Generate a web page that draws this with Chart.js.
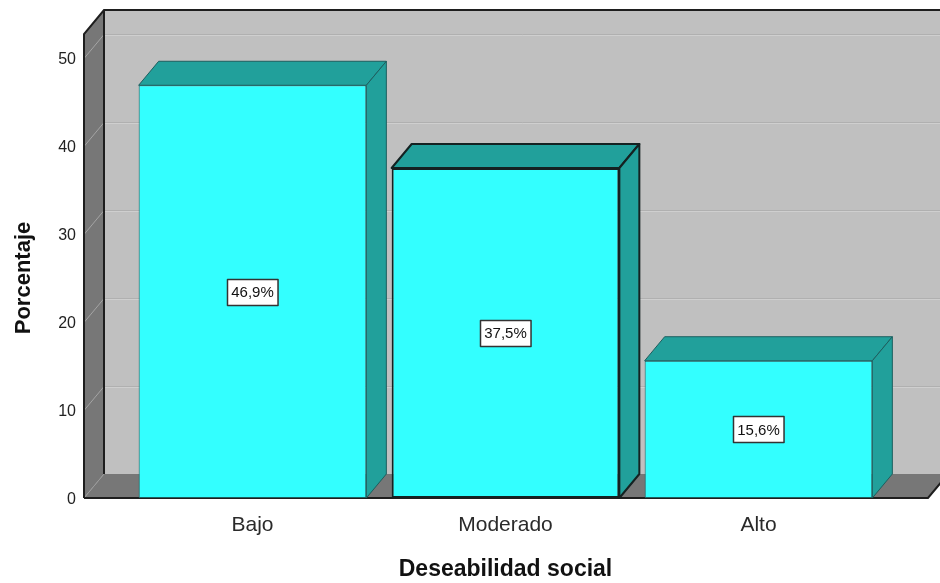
<!DOCTYPE html>
<html>
<head>
<meta charset="utf-8">
<script src="https://cdn.jsdelivr.net/npm/chart.js@4"></script>
<style>
    body { margin: 0; background: #ffffff; }
    canvas { display: block; }
</style>
</head>
<body>
<canvas id="myChart" width="940" height="583"></canvas>
<script>
const categories = ['Bajo', 'Moderado', 'Alto'];
const percentages = [46.9, 37.5, 15.6];
const yTicks = [0, 10, 20, 30, 40, 50];

const FONT = '"Liberation Sans", Arial, sans-serif';
const DEPTH_X = 20;
const DEPTH_Y = -24;
const SIDE = 42;

const wallColor = '#c0c0c0';
const sideColor = '#777777';
const faceColor = '#21a09b';

// back wall, left wall, floor and grid lines
const walls = {
    id: 'walls',
    beforeDraw(chart) {
        const ctx = chart.ctx;
        const ca = chart.chartArea;
        const y = chart.scales.y;
        const left = ca.left - SIDE;
        const right = ca.right + SIDE + 1;
        const bottom = y.getPixelForValue(0);
        const top = ca.top + DEPTH_Y;
        const bx = left + DEPTH_X;
        const by = bottom + DEPTH_Y;
        const farRight = right + DEPTH_X + 20;

        ctx.save();
        // back wall
        ctx.fillStyle = wallColor;
        ctx.fillRect(bx, top + DEPTH_Y, farRight - bx, by - top - DEPTH_Y);

        // left wall
        ctx.fillStyle = sideColor;
        ctx.beginPath();
        ctx.moveTo(left, top);
        ctx.lineTo(bx, top + DEPTH_Y);
        ctx.lineTo(bx, by);
        ctx.lineTo(left, bottom);
        ctx.closePath();
        ctx.fill();

        // floor
        ctx.beginPath();
        ctx.moveTo(left, bottom);
        ctx.lineTo(bx, by);
        ctx.lineTo(right + DEPTH_X, by);
        ctx.lineTo(right, bottom);
        ctx.closePath();
        ctx.fill();

        // grid lines
        ctx.lineWidth = 1;
        for (let i = 1; i < yTicks.length; i++) {
            const py = Math.round(y.getPixelForValue(yTicks[i])) + 0.5;
            ctx.strokeStyle = '#a4a4a4';
            ctx.beginPath();
            ctx.moveTo(left, py);
            ctx.lineTo(bx, py + DEPTH_Y);
            ctx.stroke();
            ctx.strokeStyle = '#b0b0b0';
            ctx.beginPath();
            ctx.moveTo(bx, py + DEPTH_Y);
            ctx.lineTo(farRight, py + DEPTH_Y);
            ctx.stroke();
            ctx.strokeStyle = '#cfcfcf';
            ctx.beginPath();
            ctx.moveTo(bx, py + DEPTH_Y + 1);
            ctx.lineTo(farRight, py + DEPTH_Y + 1);
            ctx.stroke();
        }
        ctx.strokeStyle = '#9a9a9a';
        ctx.beginPath();
        ctx.moveTo(left, bottom);
        ctx.lineTo(bx, by);
        ctx.stroke();

        // edges
        ctx.strokeStyle = '#1e1e1e';
        ctx.lineWidth = 2;
        ctx.beginPath();
        ctx.moveTo(left, bottom);
        ctx.lineTo(left, top);
        ctx.lineTo(bx, top + DEPTH_Y);
        ctx.lineTo(farRight, top + DEPTH_Y);
        ctx.stroke();

        ctx.beginPath();
        ctx.moveTo(bx, top + DEPTH_Y);
        ctx.lineTo(bx, by);
        ctx.stroke();

        ctx.beginPath();
        ctx.moveTo(left, bottom);
        ctx.lineTo(right, bottom);
        ctx.lineTo(right + DEPTH_X, by);
        ctx.stroke();
        ctx.restore();
    }
};

// top and side faces of the bars, plus the value boxes
const barFaces = {
    id: 'barFaces',
    afterDatasetsDraw(chart) {
        const ctx = chart.ctx;
        const meta = chart.getDatasetMeta(0);
        const ds = chart.data.datasets[0];

        ctx.save();
        meta.data.forEach((bar, i) => {
            const l = bar.x - bar.width / 2;
            const r = bar.x + bar.width / 2;
            ctx.fillStyle = faceColor;
            ctx.strokeStyle = ds.borderColor[i];
            ctx.lineWidth = ds.borderWidth[i];
            ctx.lineJoin = 'round';

            ctx.beginPath();
            ctx.moveTo(l, bar.y);
            ctx.lineTo(l + DEPTH_X, bar.y + DEPTH_Y);
            ctx.lineTo(r + DEPTH_X, bar.y + DEPTH_Y);
            ctx.lineTo(r, bar.y);
            ctx.closePath();
            ctx.fill();
            ctx.stroke();

            ctx.beginPath();
            ctx.moveTo(r, bar.y);
            ctx.lineTo(r + DEPTH_X, bar.y + DEPTH_Y);
            ctx.lineTo(r + DEPTH_X, bar.base + DEPTH_Y);
            ctx.lineTo(r, bar.base);
            ctx.closePath();
            ctx.fill();
            ctx.stroke();
        });

        ctx.font = '15px ' + FONT;
        ctx.textAlign = 'center';
        ctx.textBaseline = 'middle';
        meta.data.forEach((bar, i) => {
            const text = percentages[i].toFixed(1).replace('.', ',') + '%';
            const w = ctx.measureText(text).width + 8;
            const h = 26;
            const cy = (bar.y + bar.base) / 2;
            const bx = Math.round(bar.x - w / 2) + 0.5;
            const by = Math.round(cy - h / 2) + 0.5;
            ctx.fillStyle = '#ffffff';
            ctx.fillRect(bx, by, w, h);
            ctx.strokeStyle = '#333333';
            ctx.lineWidth = 1.5;
            ctx.strokeRect(bx, by, w, h);
            ctx.fillStyle = '#111111';
            ctx.fillText(text, bar.x, cy + 1);
        });
        ctx.restore();
    }
};

new Chart('myChart', {
    type: 'bar',
    data: {
        labels: categories,
        datasets: [{
            data: percentages,
            backgroundColor: '#33ffff',
            borderColor: ['#1d5f5f', '#142222', '#1d5f5f'],
            borderWidth: [1, 2, 1],
            borderSkipped: false,
            categoryPercentage: 1,
            barPercentage: 0.9,
        }]
    },
    options: {
        responsive: false,
        animation: false,
        devicePixelRatio: 1,
        layout: {
            padding: { top: 58, right: 55, bottom: 0, left: 0 },
        },
        scales: {
            x: {
                grid: { display: false },
                border: { display: false },
                ticks: {
                    padding: 7,
                    color: '#2a2a2a',
                    font: { family: FONT, size: 21 },
                },
                title: {
                    display: true,
                    text: 'Deseabilidad social',
                    color: '#111111',
                    font: { family: FONT, size: 23, weight: 'bold' },
                    padding: { top: 0, bottom: 0 },
                },
                afterFit(scale) {
                    scale.height = 85;
                },
            },
            y: {
                min: 0,
                max: 50,
                // invisible tick marks push the labels away from the plot
                grid: { display: false, drawTicks: true, tickLength: 46 },
                border: { display: false },
                afterBuildTicks(scale) {
                    scale.ticks = yTicks.map(v => ({ value: v }));
                },
                ticks: {
                    padding: 4,
                    labelOffset: 2,
                    color: '#222222',
                    font: { family: FONT, size: 16 },
                },
                title: {
                    display: true,
                    text: 'Porcentaje',
                    color: '#111111',
                    font: { family: FONT, size: 22, weight: 'bold' },
                    padding: { top: 11, bottom: 0 },
                },
                afterFit(scale) {
                    scale.width = 126;
                },
            }
        },
        plugins: {
            legend: { display: false },
            tooltip: { enabled: false },
        }
    },
    plugins: [walls, barFaces]
});
</script>
</body>
</html>
